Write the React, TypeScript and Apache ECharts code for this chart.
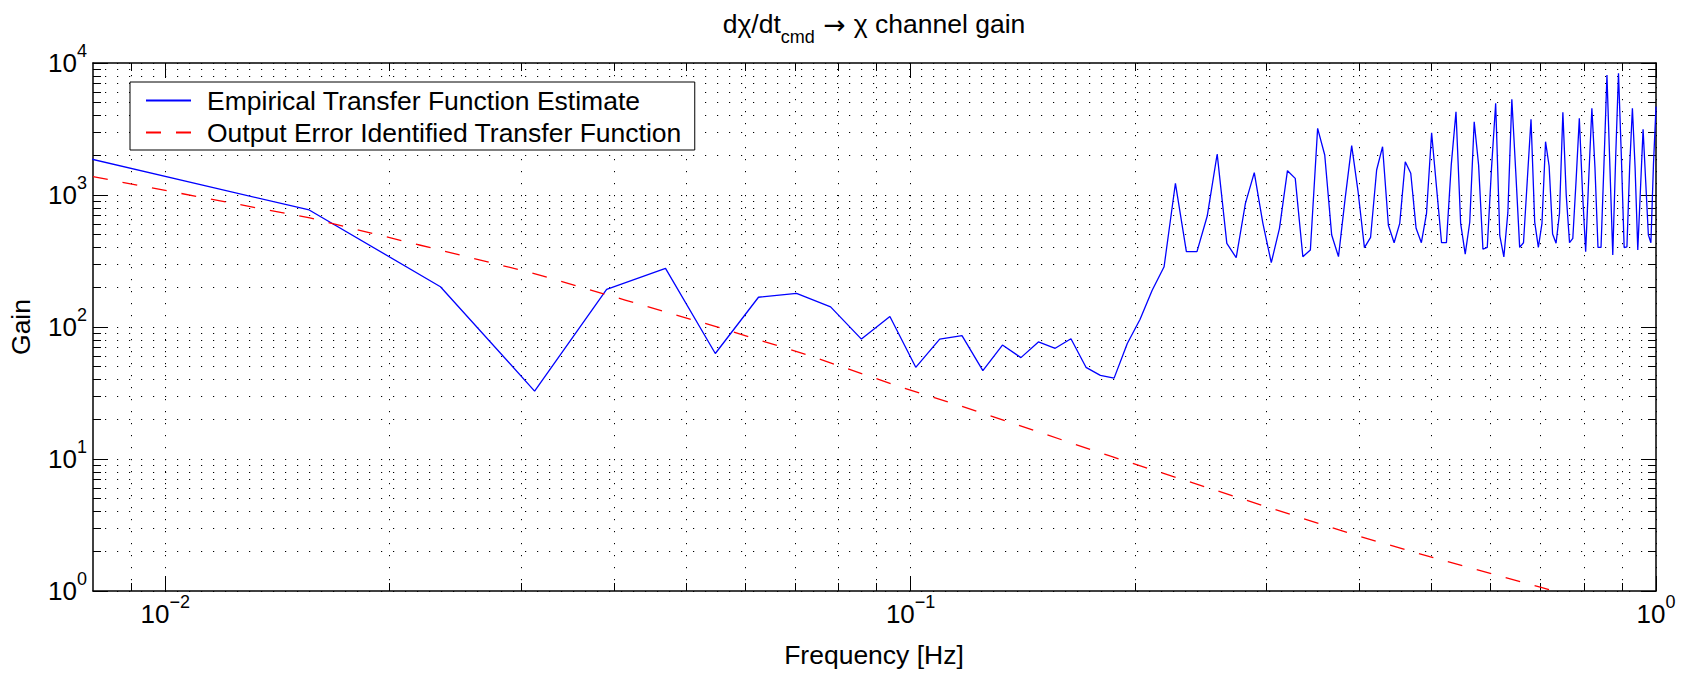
import { useEffect, useRef } from "react";
import * as echarts from "echarts";

const FONT = "'Liberation Sans', Arial, Helvetica, sans-serif";
const FS = 26.5;

// Empirical transfer function estimate: frequency bins [Hz] and gain
const empiricalFreq = [
  0.0078, 0.0156, 0.0234, 0.0313, 0.0391, 0.0469, 0.0547, 0.0625,
  0.0703, 0.0781, 0.0859, 0.0938, 0.1016, 0.1094, 0.1172, 0.125,
  0.1328, 0.1406, 0.1484, 0.1563, 0.1641, 0.1719, 0.1797, 0.1875,
  0.1953, 0.2031, 0.2109, 0.2188, 0.2266, 0.2344, 0.2422, 0.25,
  0.2578, 0.2656, 0.2734, 0.2813, 0.2891, 0.2969, 0.3047, 0.3125,
  0.3203, 0.3281, 0.3359, 0.3438, 0.3516, 0.3594, 0.3672, 0.375,
  0.3828, 0.3906, 0.3984, 0.4063, 0.4141, 0.4219, 0.4297, 0.4375,
  0.4453, 0.4531, 0.4609, 0.4688, 0.4766, 0.4844, 0.4922, 0.5,
  0.5078, 0.5156, 0.5234, 0.5313, 0.5391, 0.5469, 0.5547, 0.5625,
  0.5703, 0.5781, 0.5859, 0.5938, 0.6016, 0.6094, 0.6172, 0.625,
  0.6328, 0.6406, 0.6484, 0.6563, 0.6641, 0.6719, 0.6797, 0.6875,
  0.6953, 0.7031, 0.7109, 0.7188, 0.7266, 0.7344, 0.7422, 0.75,
  0.7578, 0.7656, 0.7734, 0.7813, 0.7891, 0.7969, 0.8047, 0.8125,
  0.8203, 0.8281, 0.8359, 0.8438, 0.8516, 0.8594, 0.8672, 0.875,
  0.8828, 0.8906, 0.8984, 0.9063, 0.9141, 0.9219, 0.9297, 0.9375,
  0.9453, 0.9531, 0.9609, 0.9688, 0.9766, 0.9844, 0.9922, 1.0,
];
const empiricalGain = [
  1920, 770, 202, 32.7, 193, 278, 63, 168,
  180, 142, 81, 120, 49.5, 81, 86, 46.7,
  73, 58.6, 77, 69, 81.5, 49.5, 43, 41,
  75, 114, 190, 286, 1227, 372, 372, 693,
  2045, 430, 335, 865, 1476, 610, 307, 559,
  1528, 1337, 341, 383, 3200, 2010, 498, 341,
  944, 2365, 1059, 399, 478, 1546, 2323, 590,
  435, 610, 1788, 1462, 559, 435, 727, 2965,
  1123, 435, 435, 1700, 4276, 610, 357, 622,
  3590, 1687, 388, 401, 1590, 4955, 492, 340,
  735, 5310, 1500, 401, 435, 1288, 3745, 624,
  401, 610, 2535, 1659, 507, 431, 727, 4231,
  1000, 435, 470, 1296, 3810, 1050, 372, 1370,
  4540, 1620, 401, 401, 1740, 8110, 1660, 351,
  1900, 8356, 2000, 400, 405, 1640, 4540, 1600,
  383, 1100, 3146, 1250, 500, 435, 1700, 4670,
];

// Output-error identified transfer function
const modelFreq = [
  0.008, 0.01563, 0.02193, 0.03097, 0.0414, 0.05483, 0.07278, 0.09661,
  0.1164, 0.1855, 0.2996, 0.3952, 0.497, 0.6993, 0.7295, 1.0,
];
const modelGain = [
  1377, 670, 418, 258, 160, 100.6, 61.4, 35.3,
  25.4, 10.5, 4.36, 2.65, 1.82, 1.07, 1.0, 0.6,
];

const xRange = [0.008, 1];
const yRange = [1, 10000];
const xMajorTicks = [0.01, 0.1, 1];
const xAllTicks = [
  0.009, 0.01, 0.02, 0.03, 0.04, 0.05, 0.06, 0.07, 0.08, 0.09,
  0.1, 0.2, 0.3, 0.4, 0.5, 0.6, 0.7, 0.8, 0.9, 1,
];
const yMajorTicks = [1, 10, 100, 1000, 10000];
const yAllTicks = [
  1, 2, 3, 4, 5, 6, 7, 8, 9,
  10, 20, 30, 40, 50, 60, 70, 80, 90,
  100, 200, 300, 400, 500, 600, 700, 800, 900,
  1000, 2000, 3000, 4000, 5000, 6000, 7000, 8000, 9000, 10000,
];

const lg = (v: number) => Math.log10(v);

const tickLine = { color: "#000", width: 1 };
const boxLine = { show: true, onZero: false, lineStyle: { color: "#000", width: 1.5 } };
const noLine = { show: false, onZero: false };
const gridLine = { show: true, lineStyle: { color: "#000", width: 1, type: [1.2, 10.8] } };
const powRich = {
  b: { fontSize: 26, lineHeight: 26, fontFamily: FONT, color: "#000" },
  s: { fontSize: 18, lineHeight: 18, padding: [0, 0, 24, 0], fontFamily: FONT, color: "#000" },
};
const powLabel = (v: number) => {
  const e = Math.round(v);
  return `{b|10}{s|${e < 0 ? "\u2212" + -e : e}}`;
};

function makeAxis(
  dim: "x" | "y",
  position: string,
  ticks: number[],
  tickLen: number,
  main: boolean,
  labels: number[] | null
) {
  const range = dim === "x" ? xRange : yRange;
  return {
    type: "value",
    gridIndex: 0,
    position,
    min: lg(range[0]),
    max: lg(range[1]),
    axisLine: main ? boxLine : noLine,
    axisTick: {
      show: true,
      inside: true,
      length: tickLen,
      customValues: ticks.map(lg),
      lineStyle: tickLine,
    },
    axisLabel: labels
      ? {
          show: true,
          customValues: labels.map(lg),
          formatter: powLabel,
          rich: powRich,
          margin: dim === "x" ? 10 : 6,
        }
      : { show: false },
    splitLine: labels ? gridLine : { show: false },
    axisPointer: { show: false },
  };
}

export default function App() {
  const ref = useRef<HTMLDivElement>(null);

  useEffect(() => {
    document.body.style.margin = "0";
    if (!ref.current) return;
    const chart = echarts.init(ref.current, undefined, { renderer: "svg" });

    const option = {
      animation: false,
      backgroundColor: "#fff",
      grid: { left: 93, right: 25, top: 63, bottom: 87, containLabel: false },
      xAxis: [
        makeAxis("x", "bottom", xAllTicks, 8, true, xMajorTicks),
        makeAxis("x", "bottom", xMajorTicks, 15, false, null),
        makeAxis("x", "top", xAllTicks, 8, true, null),
        makeAxis("x", "top", xMajorTicks, 15, false, null),
      ],
      yAxis: [
        makeAxis("y", "left", yAllTicks, 8, true, yMajorTicks),
        makeAxis("y", "left", yMajorTicks, 15, false, null),
        makeAxis("y", "right", yAllTicks, 8, true, null),
        makeAxis("y", "right", yMajorTicks, 15, false, null),
      ],
      legend: {
        show: true,
        orient: "vertical",
        left: 130,
        top: 82,
        padding: [5, 13, 4, 15],
        itemGap: 5,
        itemWidth: 45,
        itemHeight: 26,
        selectedMode: false,
        backgroundColor: "#fff",
        borderColor: "#000",
        borderWidth: 1,
        borderRadius: 0,
        itemStyle: { opacity: 0, borderWidth: 0 },
        formatter: (name: string) => `{t|${name}}`,
        textStyle: {
          rich: {
            t: {
              fontSize: FS,
              lineHeight: 26,
              fontFamily: FONT,
              color: "#000",
              padding: [0, 0, 0, 11],
            },
          },
        },
        data: [
          "Empirical Transfer Function Estimate",
          "Output Error Identified Transfer Function",
        ],
      },
      graphic: [
        {
          type: "text",
          x: 874,
          y: 24,
          silent: true,
          style: {
            text: "{a|d\u03c7/dt}{s|cmd}{r| \u2192 }{a|\u03c7 channel gain}",
            align: "center",
            verticalAlign: "middle",
            fill: "#000",
            rich: {
              a: { fontSize: FS, lineHeight: 26, fontFamily: FONT, fill: "#000" },
              r: { fontSize: FS, lineHeight: 26, fontFamily: "'DejaVu Sans', sans-serif", fill: "#000" },
              s: {
                fontSize: 18,
                lineHeight: 18,
                padding: [25, 0, 0, 0],
                fontFamily: FONT,
                fill: "#000",
              },
            },
          },
        },
        {
          type: "text",
          x: 874,
          y: 655,
          silent: true,
          style: {
            text: "Frequency [Hz]",
            fontSize: FS,
            fontFamily: FONT,
            fill: "#000",
            align: "center",
            verticalAlign: "middle",
          },
        },
        {
          type: "text",
          x: 21,
          y: 327,
          rotation: Math.PI / 2,
          silent: true,
          style: {
            text: "Gain",
            fontSize: FS,
            fontFamily: FONT,
            fill: "#000",
            align: "center",
            verticalAlign: "middle",
          },
        },
      ],
      series: [
        {
          name: "Empirical Transfer Function Estimate",
          type: "line",
          xAxisIndex: 0,
          yAxisIndex: 0,
          symbol: "none",
          showSymbol: false,
          clip: true,
          z: 3,
          lineStyle: { color: "#0000ff", width: 1.3 },
          itemStyle: { color: "#0000ff", opacity: 0 },
          emphasis: { disabled: true },
          data: empiricalFreq.map((f, i) => [lg(f), lg(empiricalGain[i])]),
        },
        {
          name: "Output Error Identified Transfer Function",
          type: "line",
          xAxisIndex: 0,
          yAxisIndex: 0,
          symbol: "none",
          showSymbol: false,
          clip: true,
          z: 4,
          lineStyle: { color: "#ff0000", width: 1.3, type: [15, 15] },
          itemStyle: { color: "#ff0000", opacity: 0 },
          emphasis: { disabled: true },
          data: modelFreq.map((f, i) => [lg(f), lg(modelGain[i])]),
        },
      ],
    };

    chart.setOption(option as any);
    return () => chart.dispose();
  }, []);

  return <div ref={ref} style={{ width: 1681, height: 678 }} />;
}
